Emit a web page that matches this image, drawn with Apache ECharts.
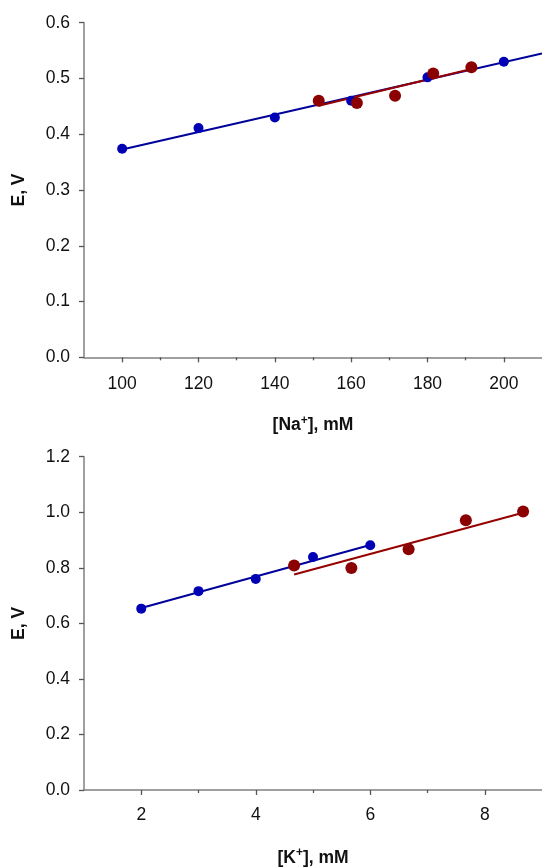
<!DOCTYPE html>
<html>
<head>
<meta charset="utf-8">
<script src="https://cdn.jsdelivr.net/npm/echarts@6/dist/echarts.min.js"></script>
<style>
html,body{margin:0;padding:0;background:#fff;}
#c{width:542px;height:868px;}
</style>
</head>
<body>
<div id="c"></div>
<script>
// ---- Top panel: E vs [Na+] ----
var naBlueX = [100, 120, 140, 160, 180, 200];
var naBlueE = [0.374, 0.411, 0.430, 0.460, 0.502, 0.530];
var naRedX  = [151.5, 161.5, 171.5, 181.5, 191.5];
var naRedE  = [0.460, 0.456, 0.469, 0.509, 0.520];
var naBlueFitX = [100, 210];
var naBlueFitE = [0.3725, 0.545];
var naRedFitX  = [151.5, 191.5];
var naRedFitE  = [0.451, 0.517];
var naTicks = [100, 120, 140, 160, 180, 200];
var naMinorTicks = [110, 130, 150, 170, 190];
var naYTicks = [0, 0.1, 0.2, 0.3, 0.4, 0.5, 0.6];

// ---- Bottom panel: E vs [K+] ----
var kBlueX = [2, 3, 4, 5, 6];
var kBlueE = [0.653, 0.716, 0.760, 0.839, 0.881];
var kRedX  = [4.67, 5.67, 6.67, 7.67, 8.67];
var kRedE  = [0.808, 0.799, 0.867, 0.971, 1.003];
var kBlueFitX = [2, 6];
var kBlueFitE = [0.655, 0.882];
var kRedFitX  = [4.67, 8.67];
var kRedFitE  = [0.776, 0.998];
var kTicks = [2, 4, 6, 8];
var kMinorTicks = [3, 5, 7];
var kYTicks = [0, 0.2, 0.4, 0.6, 0.8, 1.0, 1.2];

function zip(xs, ys) { return xs.map(function (x, i) { return [x, ys[i]]; }); }

var FONT = 'Liberation Sans, Arial, sans-serif';
var AXIS_COLOR = '#808080';
var BLUE_DOT = '#0000b4';
var BLUE_LINE = '#00009a';
var RED_DOT = '#8b0000';
var RED_LINE = '#960000';

function mainX(grid, min, max, ticks, nameRich, margin) {
  return {
    type: 'value', gridIndex: grid, min: min, max: max, position: 'bottom',
    axisLine: { show: true, onZero: false, lineStyle: { color: AXIS_COLOR, width: 1.5 } },
    axisTick: { show: true, length: 5, customValues: ticks, lineStyle: { color: '#555', width: 1.3 } },
    axisLabel: { customValues: ticks, margin: margin, color: '#111', fontSize: 17.5, fontFamily: FONT },
    splitLine: { show: false },
    name: nameRich, nameLocation: 'middle', nameGap: 57,
    nameTextStyle: {
      rich: {
        b: { fontSize: 17.5, fontWeight: 'bold', fontFamily: FONT, color: '#111', lineHeight: 22 },
        sup: { fontSize: 12, fontWeight: 'bold', fontFamily: FONT, color: '#111', verticalAlign: 'top', lineHeight: 12 }
      }
    }
  };
}
function minorX(grid, min, max, ticks) {
  return {
    type: 'value', gridIndex: grid, min: min, max: max, position: 'bottom',
    axisLine: { show: false, onZero: false },
    axisTick: { show: true, length: 3, customValues: ticks, lineStyle: { color: '#555', width: 1.3 } },
    axisLabel: { show: false },
    splitLine: { show: false }
  };
}
function mainY(grid, max, ticks) {
  return {
    type: 'value', gridIndex: grid, min: 0, max: max,
    axisLine: { show: true, onZero: false, lineStyle: { color: AXIS_COLOR, width: 1.5 } },
    axisTick: { show: true, length: 5, customValues: ticks, lineStyle: { color: '#555', width: 1.3 } },
    axisLabel: { customValues: ticks, margin: 14, color: '#111', fontSize: 17.5, fontFamily: FONT,
      formatter: function (v) { return v.toFixed(1); } },
    splitLine: { show: false },
    name: 'E, V', nameLocation: 'middle', nameGap: 56,
    nameTextStyle: { fontSize: 17.5, fontWeight: 'bold', fontFamily: FONT, color: '#111' }
  };
}
function lineSeries(x, y, data, color) {
  return { type: 'line', xAxisIndex: x, yAxisIndex: y, data: data, symbol: 'none',
    lineStyle: { color: color, width: 2 }, silent: true, animation: false, z: 2 };
}
function dotSeries(x, y, data, color, size) {
  return { type: 'scatter', xAxisIndex: x, yAxisIndex: y, data: data, symbolSize: size,
    itemStyle: { color: color, opacity: 1 }, animation: false, z: 3 };
}

var chart = echarts.init(document.getElementById('c'), null, { renderer: 'canvas' });
chart.setOption({
  backgroundColor: '#ffffff',
  animation: false,
  grid: [
    { left: 84, top: 22.7, width: 467.4, height: 334.6 },
    { left: 84, top: 456.7, width: 466.8, height: 335 }
  ],
  xAxis: [
    mainX(0, 90, 210, naTicks, '{b|[Na}{sup|+}{b|], mM}', 18),
    minorX(0, 90, 210, naMinorTicks),
    mainX(1, 1, 9, kTicks, '{b|[K}{sup|+}{b|], mM}', 16),
    minorX(1, 1, 9, kMinorTicks)
  ],
  yAxis: [
    mainY(0, 0.6, naYTicks),
    mainY(1, 1.2, kYTicks)
  ],
  series: [
    lineSeries(0, 0, zip(naBlueFitX, naBlueFitE), BLUE_LINE),
    lineSeries(0, 0, zip(naRedFitX, naRedFitE), RED_LINE),
    dotSeries(0, 0, zip(naBlueX, naBlueE), BLUE_DOT, 10),
    dotSeries(0, 0, zip(naRedX, naRedE), RED_DOT, 12),
    lineSeries(2, 1, zip(kBlueFitX, kBlueFitE), BLUE_LINE),
    lineSeries(2, 1, zip(kRedFitX, kRedFitE), RED_LINE),
    dotSeries(2, 1, zip(kBlueX, kBlueE), BLUE_DOT, 10),
    dotSeries(2, 1, zip(kRedX, kRedE), RED_DOT, 12)
  ]
});
</script>
</body>
</html>
